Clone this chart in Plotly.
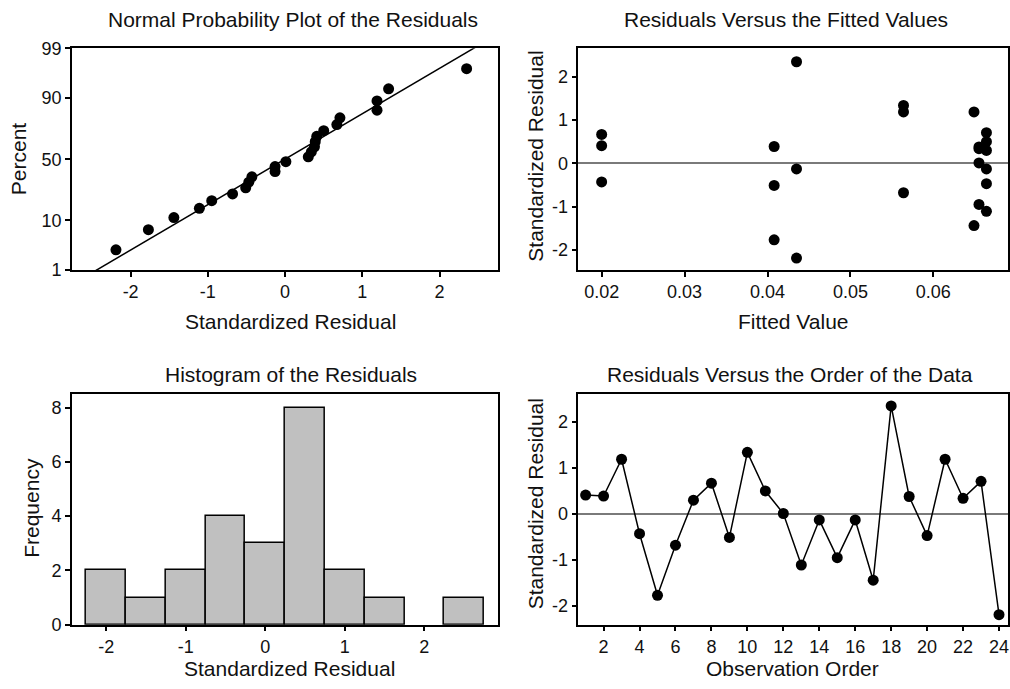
import plotly.graph_objects as go
from statistics import NormalDist
import numpy as np

# ---------------- data ----------------
obs_order = list(range(1, 25))
std_resid = [0.41, 0.39, 1.19, -0.43, -1.77, -0.68, 0.30, 0.67, -0.51, 1.34,
             0.50, 0.01, -1.11, -0.13, -0.95, -0.13, -1.44, 2.35, 0.38, -0.47,
             1.19, 0.34, 0.71, -2.19]
fitted = [0.0200, 0.0408, 0.0564, 0.0200, 0.0408, 0.0564, 0.0664, 0.0200,
          0.0408, 0.0564, 0.0664, 0.0655, 0.0664, 0.0435, 0.0655, 0.0664,
          0.0649, 0.0435, 0.0655, 0.0664, 0.0649, 0.0655, 0.0664, 0.0435]
pct_ticks = [1, 10, 50, 90, 99]

W, H = 1010, 689
FONT = "Liberation Sans, Arial, sans-serif"
TXT = "#111111"

nd = NormalDist()
n = len(std_resid)
sorted_r = sorted(std_resid)
pp_z = [nd.inv_cdf((i + 1 - 0.3) / (n + 0.4)) for i in range(n)]
mu = float(np.mean(std_resid))
sd = float(np.std(std_resid, ddof=1))
x_rng_tl = [-2.76, 2.75]
line_x = list(np.linspace(x_rng_tl[0], x_rng_tl[1], 50))
line_z = [(v - mu) / sd for v in line_x]
z_lo, z_hi = nd.inv_cdf(0.01), nd.inv_cdf(0.99)

fig = go.Figure()

mk = dict(color="black", size=11)
fig.add_trace(go.Scatter(x=line_x, y=line_z, mode="lines",
                         line=dict(color="black", width=1.5), xaxis="x", yaxis="y"))
fig.add_trace(go.Scatter(x=sorted_r, y=pp_z, mode="markers", marker=mk,
                         xaxis="x", yaxis="y", cliponaxis=False))
fig.add_trace(go.Scatter(x=fitted, y=std_resid, mode="markers", marker=mk,
                         xaxis="x2", yaxis="y2"))
fig.add_trace(go.Histogram(x=std_resid, xbins=dict(start=-2.25, end=2.75, size=0.5),
                           marker=dict(color="#c0c0c0", line=dict(color="black", width=1.5)),
                           xaxis="x3", yaxis="y3"))
fig.add_trace(go.Scatter(x=obs_order, y=std_resid, mode="lines+markers", marker=mk,
                         line=dict(color="black", width=1.5), xaxis="x4", yaxis="y4"))

def px_x(p):
    return p / W

def px_y(p):
    # compensate for the vertical offset/scale seen in the rendered capture
    q = (p - 8.6) / 0.972
    return 1 - q / H

dom_l = [px_x(72), px_x(498)]
dom_r = [px_x(579), px_x(1009)]
dom_t = [px_y(269), px_y(47)]
dom_b = [px_y(624), px_y(393)]

tickfont = dict(family=FONT, size=18, color=TXT)
base = dict(showline=True, mirror=True, linecolor="black", linewidth=1.5,
            ticks="outside", ticklen=5, tickwidth=1.5, tickcolor="black",
            showgrid=False, zeroline=False, tickfont=tickfont, fixedrange=True)

def lab(vals):
    return [("-" + str(abs(v))) if v < 0 else str(v) for v in vals]

xt1 = [-2, -1, 0, 1, 2]
fig.update_layout(
    xaxis=dict(base, domain=dom_l, anchor="y", range=x_rng_tl,
               tickvals=xt1, ticktext=lab(xt1)),
    yaxis=dict(base, domain=dom_t, anchor="x", range=[z_lo, z_hi],
               tickvals=[nd.inv_cdf(p / 100) for p in pct_ticks],
               ticktext=[str(p) for p in pct_ticks]),
    xaxis2=dict(base, domain=dom_r, anchor="y2", range=[0.0172, 0.069],
                tickvals=[0.02, 0.03, 0.04, 0.05, 0.06],
                ticktext=["0.02", "0.03", "0.04", "0.05", "0.06"]),
    yaxis2=dict(base, domain=dom_t, anchor="x2", range=[-2.47, 2.66],
                tickvals=[-2, -1, 0, 1, 2], ticktext=lab([-2, -1, 0, 1, 2]),
                zeroline=True, zerolinecolor="#7a7a7a", zerolinewidth=2),
    xaxis3=dict(base, domain=dom_l, anchor="y3", range=[-2.43, 2.92],
                tickvals=xt1, ticktext=lab(xt1)),
    yaxis3=dict(base, domain=dom_b, anchor="x3", range=[0, 8.5],
                tickvals=[0, 2, 4, 6, 8], ticktext=["0", "2", "4", "6", "8"]),
    xaxis4=dict(base, domain=dom_r, anchor="y4", range=[0.6, 24.5],
                tickvals=list(range(2, 25, 2)), ticktext=[str(v) for v in range(2, 25, 2)]),
    yaxis4=dict(base, domain=dom_b, anchor="x4", range=[-2.41, 2.61],
                tickvals=[-2, -1, 0, 1, 2], ticktext=lab([-2, -1, 0, 1, 2]),
                zeroline=True, zerolinecolor="#7a7a7a", zerolinewidth=2),
    width=W, height=H, margin=dict(l=0, r=0, t=0, b=0),
    paper_bgcolor="white", plot_bgcolor="white", showlegend=False,
    bargap=0,
)

ann_font = dict(family=FONT, size=21, color=TXT)
texts = [
    ("Normal Probability Plot of the Residuals", 293, 18, 0),
    ("Residuals Versus the Fitted Values", 787, 18, 0),
    ("Histogram of the Residuals", 291, 373, 0),
    ("Residuals Versus the Order of the Data", 791, 373, 0),
    ("Standardized Residual", 291, 320, 0),
    ("Fitted Value", 794, 320, 0),
    ("Standardized Residual", 290, 668, 0),
    ("Observation Order", 793, 668, 0),
    ("Percent", 18, 157, -90),
    ("Standardized Residual", 536, 155, -90),
    ("Frequency", 32, 507, -90),
    ("Standardized Residual", 536, 503, -90),
]
for t, x, y, ang in texts:
    fig.add_annotation(text=t, x=px_x(x), y=px_y(y), xref="paper", yref="paper",
                       xanchor="center", yanchor="middle", showarrow=False,
                       textangle=ang, font=ann_font)

fig.write_html("out.html", config={"displayModeBar": False})
